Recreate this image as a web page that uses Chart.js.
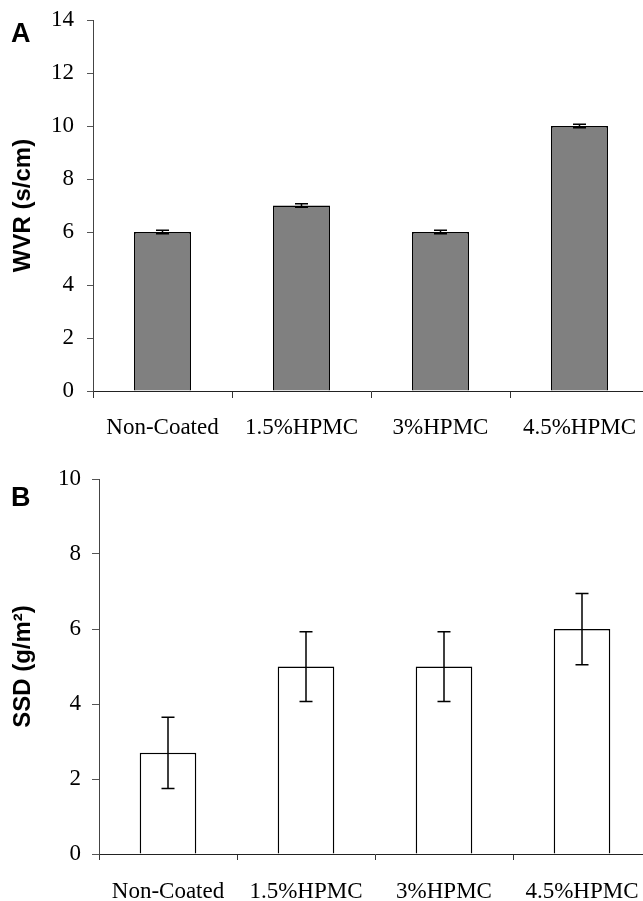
<!DOCTYPE html>
<html>
<head>
<meta charset="utf-8">
<script src="https://cdn.jsdelivr.net/npm/chart.js@4.4.1/dist/chart.umd.min.js"></script>
<style>
  html, body { margin: 0; padding: 0; background: #fff; overflow: hidden; width: 643px; height: 901px; }
  canvas { position: absolute; left: 0; }
  .panel-label { position: absolute; font: bold 27px "Liberation Sans", Arial, sans-serif; line-height: 27px; color: #000; }
</style>
</head>
<body>
<canvas id="chartA" width="649" height="450" style="top:0"></canvas>
<canvas id="chartB" width="651" height="460" style="top:450px"></canvas>
<div class="panel-label" style="left:11px; top:20px;">A</div>
<div class="panel-label" style="left:11px; top:484px;">B</div>
<script>
// Data
const categories = ['Non-Coated', '1.5%HPMC', '3%HPMC', '4.5%HPMC'];
const wvrValues = [6, 7, 6, 10];
const wvrErrors = [0.07, 0.07, 0.07, 0.07];
const ssdValues = [2.7, 5.0, 5.0, 6.0];
const ssdErrors = [0.95, 0.93, 0.93, 0.95];

const serif = '"Liberation Serif", "Times New Roman", serif';
const sans = '"Liberation Sans", Arial, sans-serif';

// Draw error bars through the y scale
const errorBars = {
    id: 'errorBars',
    afterDatasetsDraw(chart, args, opts) {
        const ctx = chart.ctx;
        const meta = chart.getDatasetMeta(0);
        const yScale = chart.scales.y;
        const data = chart.data.datasets[0].data;
        ctx.save();
        ctx.strokeStyle = '#000';
        ctx.lineWidth = 1.5;
        meta.data.forEach((bar, i) => {
            const yHi = yScale.getPixelForValue(data[i] + opts.errors[i]);
            const yLo = yScale.getPixelForValue(data[i] - opts.errors[i]);
            const half = 6.5;
            ctx.beginPath();
            ctx.moveTo(bar.x, yHi); ctx.lineTo(bar.x, yLo);
            ctx.moveTo(bar.x - half, yHi); ctx.lineTo(bar.x + half, yHi);
            ctx.moveTo(bar.x - half, yLo); ctx.lineTo(bar.x + half, yLo);
            ctx.stroke();
        });
        ctx.restore();
    }
};

function makeChart(id, values, errors, yMax, fill, title, axisWidth, xAxisHeight, topPad, yTickLen, yTickPad, xTickLen, xTickPad) {
    return new Chart(document.getElementById(id).getContext('2d'), {
        type: 'bar',
        data: {
            labels: categories,
            datasets: [{
                data: values,
                backgroundColor: fill,
                borderColor: '#000',
                borderWidth: 1.5,
                barPercentage: 0.41,
                categoryPercentage: 1
            }]
        },
        options: {
            responsive: false,
            animation: false,
            devicePixelRatio: 1,
            layout: { padding: { top: topPad, left: 0, right: 0, bottom: 0 } },
            plugins: {
                legend: { display: false },
                tooltip: { enabled: false },
                errorBars: { errors: errors }
            },
            scales: {
                x: {
                    grid: { display: true, drawOnChartArea: false, drawTicks: true, tickLength: xTickLen, color: '#333', offset: true },
                    border: { display: true, color: '#222', width: 1 },
                    ticks: { color: '#000', font: { family: serif, size: 23 }, padding: xTickPad, autoSkip: false, maxRotation: 0 },
                    afterFit(scale) {
                        scale.height = xAxisHeight;
                        scale.paddingLeft = 0;
                        scale.paddingRight = 0;
                    }
                },
                y: {
                    min: 0,
                    max: yMax,
                    grid: { display: true, drawOnChartArea: false, drawTicks: true, tickLength: yTickLen, color: '#555' },
                    border: { display: true, color: '#444', width: 1 },
                    ticks: { stepSize: 2, color: '#000', font: { family: serif, size: 23 }, padding: yTickPad },
                    title: { display: true, text: title, color: '#000', font: { family: sans, size: 24, weight: 'bold' }, padding: { top: 9, bottom: 0 } },
                    afterFit(scale) {
                        scale.width = axisWidth;
                        scale.paddingTop = 0;
                        scale.paddingBottom = 0;
                    }
                }
            }
        },
        plugins: [errorBars]
    });
}

// Panel A: WVR
const wvrChart = makeChart('chartA', wvrValues, wvrErrors, 14, '#808080', 'WVR (s/cm)', 93, 59, 20, 6, 13, 7, 16);

// Panel B: SSD
const ssdChart = makeChart('chartB', ssdValues, ssdErrors, 10, '#ffffff', 'SSD (g/m²)', 99, 56, 29, 7, 11, 6, 18);
</script>
</body>
</html>
